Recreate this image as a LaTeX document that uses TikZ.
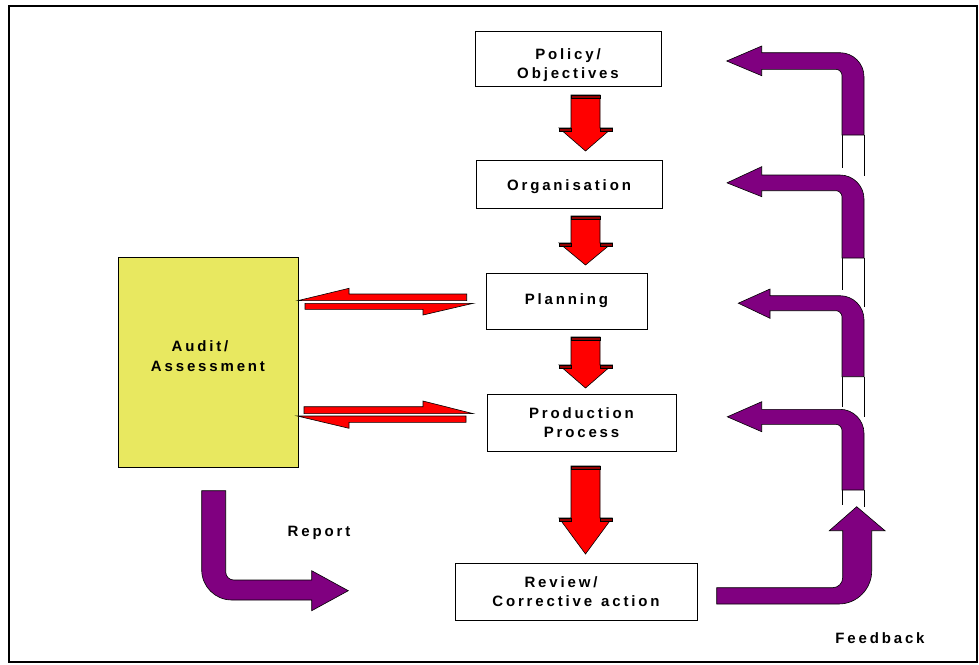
\documentclass[tikz,border=0pt]{standalone}
\usepackage{fontspec}
\setmainfont{Liberation Sans}
\newfontfamily\spacedfont[LetterSpace=19]{Liberation Sans}
\usepackage{tikz}
\usetikzlibrary{positioning}
\definecolor{feedpurple}{RGB}{128,0,128}
\definecolor{audityellow}{RGB}{232,232,96}
\definecolor{banddark}{RGB}{150,0,0}
\tikzstyle{stage}       = [draw=black, line width=0.8pt, fill=white, inner sep=0pt,
                           font=\spacedfont\bfseries\fontsize{15}{19.5}\selectfont]
\tikzstyle{caption}     = [font=\spacedfont\bfseries\fontsize{15}{19.5}\selectfont]
\tikzstyle{redblock}    = [fill=red, draw=black, line width=0.6pt]
\tikzstyle{band}        = [fill=banddark, draw=black, line width=0.4pt]
\tikzstyle{purpleblock} = [fill=feedpurple, draw=black, line width=0.6pt]
\tikzstyle{rail}        = [draw=black, line width=0.7pt]
\tikzset{every node/.style={align=center}}

\begin{document}
\begin{tikzpicture}[x=1pt, y=-1pt]
  \useasboundingbox (0,0) rectangle (979,664);
  % Frame
  \draw[line width=2pt] (8.5,6) rectangle (977,662);
  % Stages
  \node[stage, minimum width=186, minimum height=55] (policy) at (568,59) {\rule{0pt}{23pt}Policy/\\Objectives};
  \node[stage, minimum width=186, minimum height=48] (organisation) at (569,184) {\rule{0pt}{17pt}Organisation};
  \node[stage, minimum width=161, minimum height=56] (planning) at (566.5,301) {Planning};
  \node[stage, minimum width=189, minimum height=57] (production) at (581.5,422.5) {Production\\Process};
  \node[stage, minimum width=242, minimum height=57] (review) at (576,591.5) {Review/\hspace*{30pt}\\Corrective\hspace{2pt} action};
  \node[stage, fill=audityellow, minimum width=180, minimum height=210] (audit) at (208,362) {Audit/\hspace*{16pt}\\Assessment\rule[-12pt]{0pt}{12pt}};
  % Labels
  \node[caption] (report) at (319,533) {Report};
  \node[caption] (feedback) at (880,638) {Feedback};
  % Red arrows down the column
  \foreach \ya/\yb/\yc in {95/128/151, 216/243/265, 337/365/388, 466/518/554} {
    \filldraw[redblock] (571,\ya) -- (600,\ya) -- (600,\yb) -- (612,\yb) -- (585.5,\yc)
      -- (559,\yb) -- (571,\yb) -- cycle;
    \filldraw[band] (571,\ya) rectangle (600,\ya+3);
    \filldraw[band] (559,\yb) rectangle (571,\yb+3);
    \filldraw[band] (600,\yb) rectangle (612,\yb+3);
  }
  % Half arrows between audit and planning
  \filldraw[redblock] (466.7,294) -- (349,294) -- (349,288.3) -- (298,300.6) -- (466.7,300.6) -- cycle;
  \filldraw[redblock] (305,303.3) -- (473.3,303.3) -- (423,315) -- (423,309.3) -- (305,309.3) -- cycle;
  % Half arrows between audit and production
  \filldraw[redblock] (304,406.7) -- (423,406.7) -- (423,401) -- (473,413.6) -- (304,413.6) -- cycle;
  \filldraw[redblock] (466,416) -- (297.3,416) -- (349,428.3) -- (349,422.3) -- (466,422.3) -- cycle;
  % Rails under the feedback arrows
  \foreach \xr/\ya/\yb in {842/135/168, 864/135/176, 842/258/290, 864/258/306.7,
                           842/376.7/407, 864/376.7/417, 842/490/505, 864/490/506.7}
    \draw[rail] (\xr,\ya) -- (\xr,\yb);
  % Feedback arrows back to the stages
  \foreach \ht/\st/\sb/\hb/\hx/\tx/\vb in {46/52.7/69.3/75.7/761.7/726.7/135,
      166.7/175/190.7/196.7/761.7/727/258, 289/295.7/310.7/318.3/770/738.3/376.7,
      401.7/409.3/424.3/431.7/761.7/727.3/490} {
    \filldraw[purpleblock] (842,\vb) -- (842,\sb+6) .. controls (842,\sb+2.7) and (838.7,\sb) .. (836,\sb)
      -- (\hx,\sb) -- (\hx,\hb) -- (\tx,{(\st+\sb)/2}) -- (\hx,\ht) -- (\hx,\st) -- (840,\st)
      .. controls (853.2,\st) and (864,\st+10.8) .. (864,\st+24) -- (864,\vb) -- cycle;
  }
  % Feedback from review
  \filldraw[purpleblock] (716.7,587.7) -- (832.7,587.7) .. controls (838.2,587.7) and (842.7,583.2) .. (842.7,577.7)
    -- (842.7,530.7) -- (829.3,530.7) -- (856.7,506.7) -- (885,530.7) -- (871.7,530.7) -- (871.7,571)
    .. controls (871.7,589) and (857,604) .. (838.7,604) -- (716.7,604) -- cycle;
  % Report from audit
  \filldraw[purpleblock] (201.7,490.7) -- (225.7,490.7) -- (225.7,572) .. controls (225.7,576.4) and (229.3,580) .. (233.7,580)
    -- (311.7,580) -- (311.7,570.7) -- (348.3,590.7) -- (311.7,610.7) -- (311.7,600) -- (231.7,600)
    .. controls (215.2,600) and (201.7,586.5) .. (201.7,570) -- cycle;
\end{tikzpicture}
\end{document}
